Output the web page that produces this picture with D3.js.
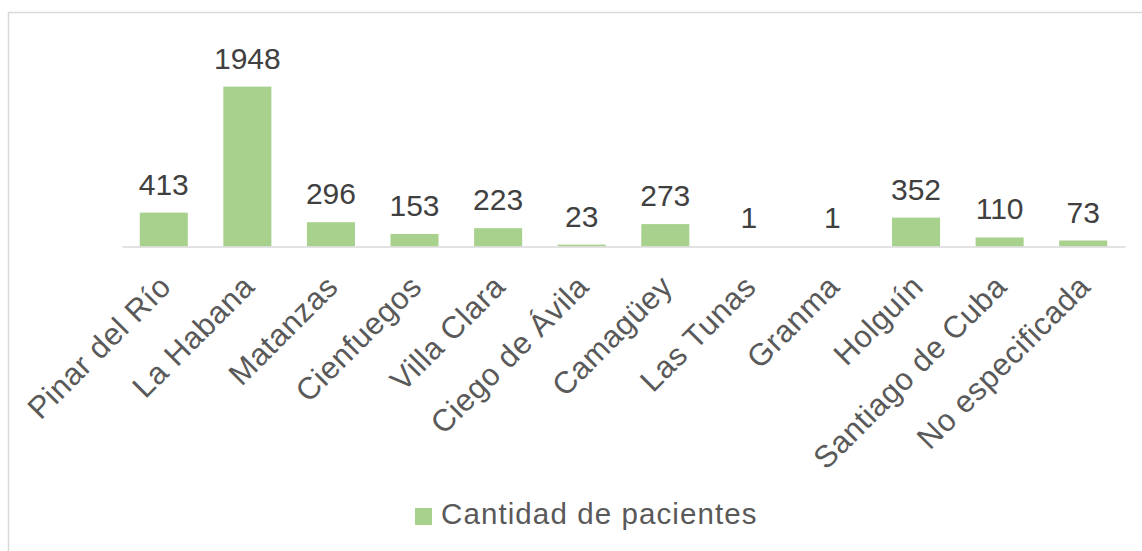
<!DOCTYPE html>
<html><head><meta charset="utf-8">
<script src="https://cdn.jsdelivr.net/npm/d3@7"></script>
<style>body{margin:0;background:#fff}svg{display:block}</style>
</head><body>
<script>
const categories = ["Pinar del Río","La Habana","Matanzas","Cienfuegos","Villa Clara","Ciego de Ávila","Camagüey","Las Tunas","Granma","Holguín","Santiago de Cuba","No especificada"];
const values = [413,1948,296,153,223,23,273,1,1,352,110,73];
const seriesName = "Cantidad de pacientes";

const W = 1142, H = 551;
const svg = d3.select("body").append("svg").attr("width", W).attr("height", H);
const font = "Liberation Sans, Arial, sans-serif";

svg.append("rect").attr("x", 8.5).attr("y", 12.5).attr("width", W + 10).attr("height", H + 10)
  .attr("fill", "none").attr("stroke", "#D9D9D9").attr("stroke-width", 1.5);

const x = d3.scaleBand().domain(categories).range([122, 1125]).paddingInner(0.425).paddingOuter(0.2125);
const y = d3.scaleLinear().domain([0, 2500]).range([246.5, 41.3]);

svg.append("g").selectAll("rect").data(values).join("rect")
  .attr("x", (d, i) => x(categories[i]))
  .attr("width", x.bandwidth())
  .attr("y", d => y(d))
  .attr("height", d => y(0) - y(d))
  .attr("fill", "#A9D18E");

const axis = d3.axisBottom(x).tickSize(0).tickSizeOuter(0);
const gA = svg.append("g").attr("transform", `translate(0,${y(0)})`).call(axis);
gA.select(".domain").attr("stroke", "#D9D9D9").attr("stroke-width", 1.5);
gA.selectAll(".tick text")
  .attr("font-family", font).attr("font-size", 31).attr("fill", "#595959")
  .attr("letter-spacing", 0.6)
  .attr("text-anchor", "end").attr("dy", null)
  .attr("transform", "translate(9,42) rotate(-45)")
  .attr("x", 0).attr("y", 0);

svg.append("g").selectAll("text").data(values).join("text")
  .attr("x", (d, i) => x(categories[i]) + x.bandwidth() / 2)
  .attr("y", d => y(d) - 18)
  .attr("text-anchor", "middle")
  .attr("font-family", font).attr("font-size", 30).attr("fill", "#404040")
  .text(d => d);

const lg = svg.append("g");
lg.append("rect").attr("x", 415).attr("y", 508).attr("width", 17).attr("height", 17).attr("fill", "#A9D18E");
lg.append("text").attr("x", 441).attr("y", 524).attr("font-family", font).attr("font-size", 29.5)
  .attr("letter-spacing", 1.1)
  .attr("fill", "#595959").text(seriesName);
</script>
</body></html>
